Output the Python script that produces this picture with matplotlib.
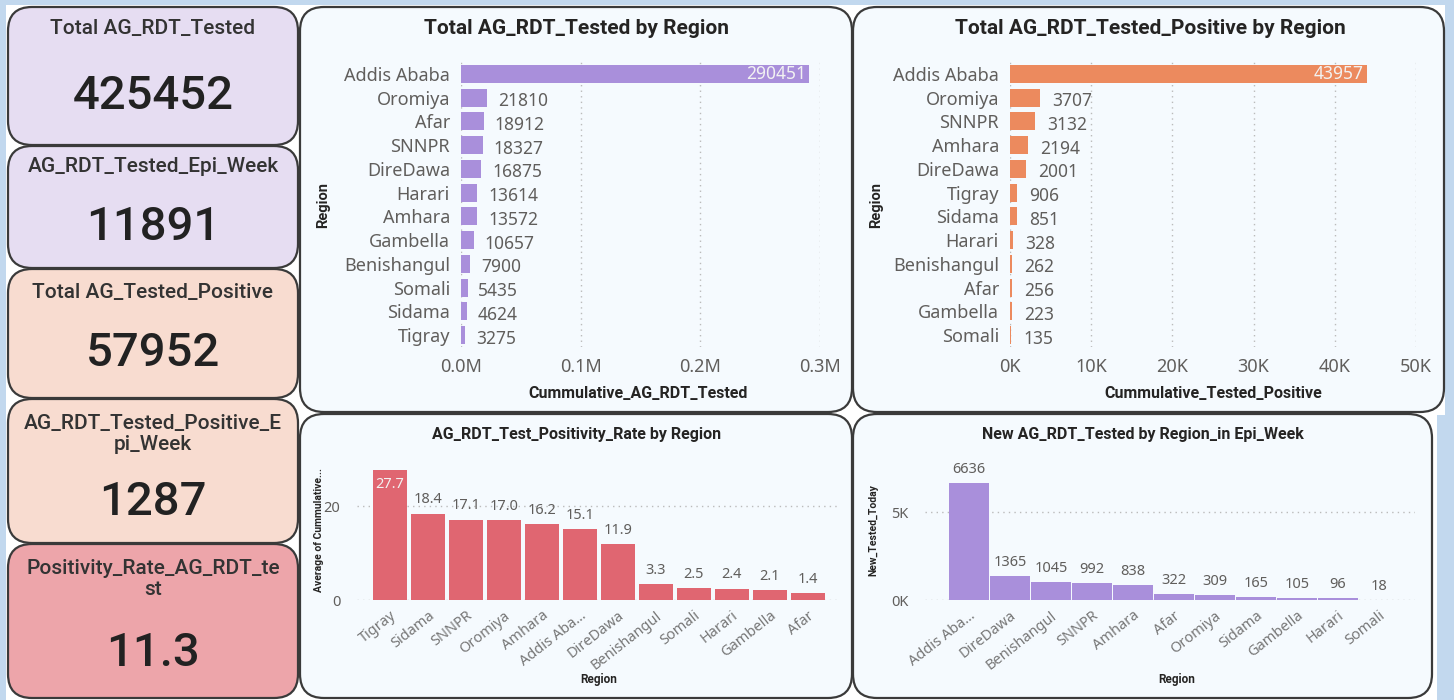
import matplotlib
matplotlib.use("Agg")
import matplotlib.pyplot as plt
from matplotlib.patches import FancyBboxPatch, Rectangle
from matplotlib.ticker import FuncFormatter

W, H = 1454, 700

# Данные карточек
card_titles = ["Total AG_RDT_Tested", "AG_RDT_Tested_Epi_Week", "Total AG_Tested_Positive",
               "AG_RDT_Tested_Positive_E\npi_Week", "Positivity_Rate_AG_RDT_te\nst"]
card_values = ["425452", "11891", "57952", "1287", "11.3"]

# Всего протестировано по регионам
tested_regions = ["Addis Ababa", "Oromiya", "Afar", "SNNPR", "DireDawa", "Harari", "Amhara",
                  "Gambella", "Benishangul", "Somali", "Sidama", "Tigray"]
tested_values = [290451, 21810, 18912, 18327, 16875, 13614, 13572, 10657, 7900, 5435, 4624, 3275]

# Всего положительных по регионам
positive_regions = ["Addis Ababa", "Oromiya", "SNNPR", "Amhara", "DireDawa", "Tigray", "Sidama",
                    "Harari", "Benishangul", "Afar", "Gambella", "Somali"]
positive_values = [43957, 3707, 3132, 2194, 2001, 906, 851, 328, 262, 256, 223, 135]

# Доля положительных
rate_regions = ["Tigray", "Sidama", "SNNPR", "Oromiya", "Amhara", "Addis Aba...", "DireDawa",
                "Benishangul", "Somali", "Harari", "Gambella", "Afar"]
rate_values = [27.7, 18.4, 17.1, 17.0, 16.2, 15.1, 11.9, 3.3, 2.5, 2.4, 2.1, 1.4]

# Новые тесты за эпи-неделю
new_regions = ["Addis Aba...", "DireDawa", "Benishangul", "SNNPR", "Amhara", "Afar", "Oromiya",
               "Sidama", "Gambella", "Harari", "Somali"]
new_values = [6636, 1365, 1045, 992, 838, 322, 309, 165, 105, 96, 18]

PURPLE = "#A98FDB"
ORANGE = "#EC8A5E"
RED = "#E06671"
GREY = "#605E5C"
DARK = "#252423"
PANEL = "#F5FAFE"
BORDER = "#3A3A3A"
TFONT = ["Roboto", "DejaVu Sans"]
LFONT = ["Noto Sans", "DejaVu Sans"]

fig = plt.figure(figsize=(W / 100, H / 100), dpi=100)
fig.patch.set_facecolor("#C2D8EE")

bg = fig.add_axes([0, 0, 1, 1])
bg.set_xlim(0, W)
bg.set_ylim(H, 0)
bg.axis("off")
bg.add_patch(Rectangle((6, 5), 1439, 410, facecolor="white", edgecolor="none"))
bg.add_patch(Rectangle((6, 410), 1431, 290, facecolor="white", edgecolor="none"))


def box(x0, y0, x1, y1, color, r=24):
    bg.add_patch(FancyBboxPatch((x0, y0), x1 - x0, y1 - y0,
                                boxstyle=f"round,pad=0,rounding_size={r}",
                                facecolor=color, edgecolor=BORDER, linewidth=1.6))


def px_axes(x0, y0, x1, y1):
    ax = fig.add_axes([x0 / W, 1 - y1 / H, (x1 - x0) / W, (y1 - y0) / H])
    ax.set_facecolor("none")
    for s in ax.spines.values():
        s.set_visible(False)
    return ax


# Карточки слева
cards = [(7, 145, "#E6DDF2", 28, 96), (146, 268, "#E6DDF2", 167, 227),
         (269, 398, "#F8DCD0", 293, 353), (399, 543, "#F8DCD0", 434, 502),
         (544, 698, "#EDA5AA", 579, 653)]
for (y0, y1, col, ty, vy), t, v in zip(cards, card_titles, card_values):
    box(8, y0, 298, y1, col)
    bg.text(153, ty, t, ha="center", va="center", fontsize=15, fontweight="medium",
            color="#333333", family=TFONT, linespacing=1.1)
    bg.text(153, vy, v, ha="center", va="center", fontsize=34, fontweight="medium",
            color="#222222", family=TFONT)

# Панели
box(300, 7, 852, 412, PANEL)
box(853, 7, 1444, 412, PANEL)
box(300, 414, 852, 698, PANEL)
box(853, 414, 1432, 698, PANEL)


def hbar(ax, regions, values, color, xmax, step, fmt, title, xlabel, tx, xlx):
    ys = range(len(regions))
    ax.barh(ys, values, height=0.76, color=color, zorder=2)
    ax.set_ylim(len(regions) - 0.5, -0.5)
    ax.set_xlim(0, xmax)
    ax.set_yticks(list(ys))
    ax.set_yticklabels(regions, family=LFONT, fontsize=12.5, color=GREY)
    ticks = [i * step for i in range(int(xmax / step) + 1)]
    ax.set_xticks(ticks)
    ax.xaxis.set_major_formatter(FuncFormatter(fmt))
    ax.tick_params(length=0, labelsize=13, labelcolor=GREY, pad=8)
    for lab in ax.get_xticklabels():
        lab.set_family(LFONT)
    ax.grid(axis="x", linestyle=(0, (1, 3)), color="#BBBBBB", linewidth=1, zorder=0)
    for i, v in enumerate(values):
        if v > xmax * 0.5:
            ax.text(v - xmax * 0.008, i, str(v), ha="right", va="center", color="#F2F2F2",
                    fontsize=12.5, family=LFONT)
        else:
            ax.text(v + xmax * 0.03, i + 0.15, str(v), ha="left", va="center", color=GREY,
                    fontsize=12.5, family=LFONT)
    bg.text(tx, 28, title, ha="center", va="center", fontsize=15, fontweight="bold",
            color=DARK, family=TFONT)
    bg.text(xlx, 393, xlabel, ha="center", va="center", fontsize=11.5, fontweight="bold",
            color=DARK, family=TFONT)


ax1 = px_axes(461, 62, 820, 347)
hbar(ax1, tested_regions, tested_values, PURPLE, 300000, 100000,
     lambda x, p: f"{x / 1e6:.1f}M", "Total AG_RDT_Tested by Region",
     "Cummulative_AG_RDT_Tested", 577, 638)
bg.text(323, 205, "Region", rotation=90, ha="center", va="center", fontsize=10.5,
        fontweight="bold", color=DARK, family=TFONT)

ax2 = px_axes(1010, 62, 1416, 347)
hbar(ax2, positive_regions, positive_values, ORANGE, 50000, 10000,
     lambda x, p: f"{x / 1e3:.0f}K", "Total AG_RDT_Tested_Positive by Region",
     "Cummulative_Tested_Positive", 1150, 1213)
bg.text(876, 205, "Region", rotation=90, ha="center", va="center", fontsize=10.5,
        fontweight="bold", color=DARK, family=TFONT)


def vbar(ax, regions, values, color, ymax, yticks, fmt, width, inside_first, title, tx,
         ylabel, ylx, xlx, dec):
    xs = range(len(regions))
    ax.bar(xs, values, width=width, color=color, zorder=2)
    ax.set_ylim(0, ymax)
    ax.set_yticks(yticks)
    ax.yaxis.set_major_formatter(FuncFormatter(fmt))
    ax.set_xticks(list(xs))
    ax.set_xticklabels(regions, rotation=38, ha="right", rotation_mode="anchor",
                       family=LFONT, fontsize=10.5, color="#777777")
    ax.tick_params(length=0, labelsize=10.5, labelcolor=GREY)
    ax.tick_params(axis="x", pad=6, labelcolor="#777777")
    ax.tick_params(axis="y", pad=12)
    for lab in ax.get_yticklabels():
        lab.set_family(LFONT)
    ax.grid(axis="y", linestyle=(0, (1, 3)), color="#BBBBBB", linewidth=1, zorder=0)
    for i, v in enumerate(values):
        s = f"{v:.{dec}f}"
        if i == 0 and inside_first:
            ax.text(i, v - ymax * 0.05, s, ha="center", va="top", color="#F2F2F2",
                    fontsize=10.5, family=LFONT)
        else:
            ax.text(i, v + ymax * 0.045, s, ha="center", va="bottom", color=GREY,
                    fontsize=10.5, family=LFONT)
    bg.text(tx, 434, title, ha="center", va="center", fontsize=11.5, fontweight="bold",
            color=DARK, family=TFONT)
    bg.text(ylx, 530, ylabel, rotation=90, ha="center", va="center", fontsize=7.5,
            fontweight="bold", color=DARK, family=TFONT)
    bg.text(xlx, 680, "Region", ha="center", va="center", fontsize=8.5,
            fontweight="bold", color=DARK, family=TFONT)


ax3 = px_axes(357, 460, 838, 600)
vbar(ax3, rate_regions, rate_values, RED, 29.8, [0, 20], lambda y, p: f"{y:.0f}", 0.9, True,
     "AG_RDT_Test_Positivity_Rate by Region", 577, "Average of Cummulative...", 319, 599, 1)
ax3.set_xlim(-0.87, 11.8)

ax4 = px_axes(925, 470, 1415, 600)
vbar(ax4, new_regions, new_values, PURPLE, 7390, [0, 5000], lambda y, p: f"{y / 1e3:.0f}K",
     0.96, False, "New AG_RDT_Tested by Region_in Epi_Week", 1143, "New_Tested_Today", 873,
     1177, 0)
ax4.set_xlim(-1.07, 10.88)

fig.savefig("out.png", dpi=100, facecolor=fig.get_facecolor())
